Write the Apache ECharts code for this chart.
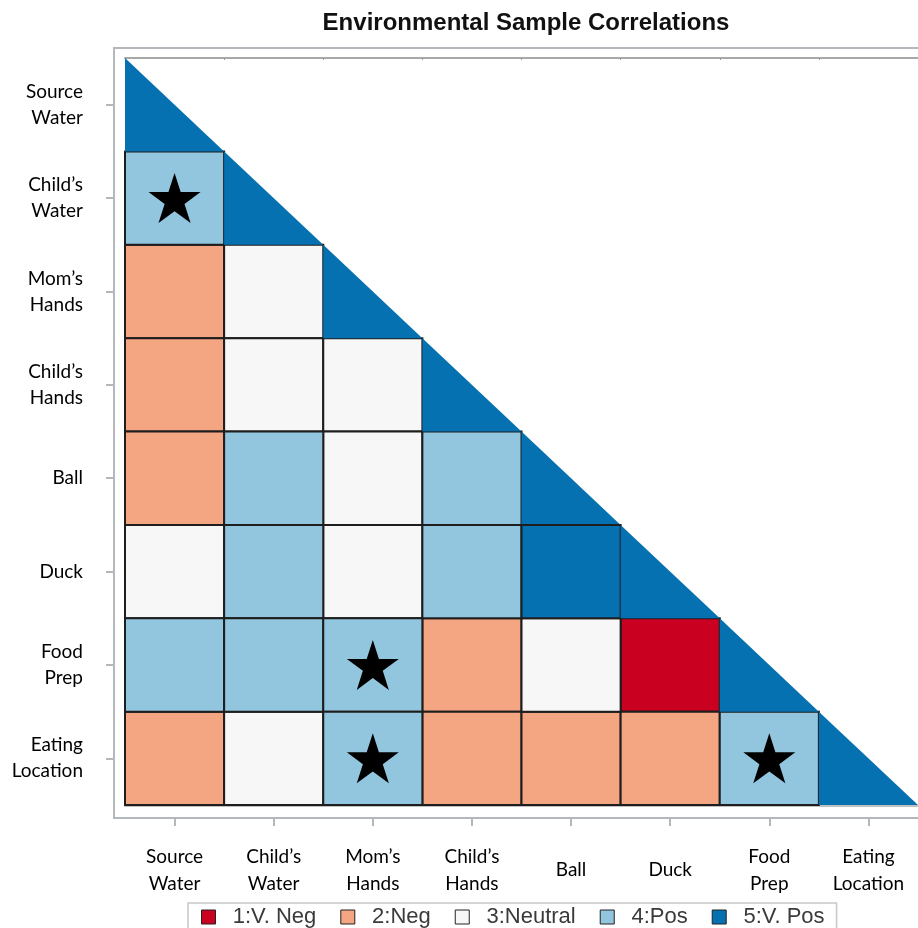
<!DOCTYPE html>
<html>
<head>
<meta charset="utf-8">
<script src="https://cdn.jsdelivr.net/npm/echarts@6/dist/echarts.min.js"></script>
<style>
html,body{margin:0;padding:0;background:#fff;}
#chart{width:918px;height:928px;}
</style>
</head>
<body>
<div id="chart"></div>
<script>
// ---- data ----
const categories = ['Source\nWater', 'Child\u2019s\nWater', 'Mom\u2019s\nHands', 'Child\u2019s\nHands', 'Ball', 'Duck', 'Food\nPrep', 'Eating\nLocation'];
// lower-triangle correlation levels, one array per row (columns 0..row)
const rowSourceWater   = [5];
const rowChildsWater   = [4, 5];
const rowMomsHands     = [2, 3, 5];
const rowChildsHands   = [2, 3, 3, 5];
const rowBall          = [2, 4, 3, 4, 5];
const rowDuck          = [3, 4, 3, 4, 5, 5];
const rowFoodPrep      = [4, 4, 4, 2, 3, 1, 5];
const rowEatingLoc     = [2, 3, 4, 2, 2, 2, 4, 5];
const levelNames = ['1:V. Neg', '2:Neg', '3:Neutral', '4:Pos', '5:V. Pos'];
// significant cells: [column, row]
const starCells = [[0, 1], [2, 6], [2, 7], [6, 7]];

// ---- styles ----
const levelColors = ['#ca0020', '#f4a582', '#f7f7f7', '#92c5de', '#0571b0'];
const rows = [rowSourceWater, rowChildsWater, rowMomsHands, rowChildsHands, rowBall, rowDuck, rowFoodPrep, rowEatingLoc];

function renderCell(params, api) {
  const x = api.value(0), y = api.value(1);
  const c = api.coord([x, y]);
  const s = api.size([1, 1]);
  const x0 = c[0] - s[0] / 2, y0 = c[1] - s[1] / 2;
  const fill = api.visual('color');
  if (x === y) {
    return {
      type: 'polygon',
      shape: { points: [[x0, y0], [x0, y0 + s[1]], [x0 + s[0], y0 + s[1]]] },
      style: { fill: fill }
    };
  }
  return {
    type: 'rect',
    shape: { x: x0, y: y0, width: s[0], height: s[1] },
    style: { fill: fill, stroke: '#1e1e1e', lineWidth: 2 }
  };
}

const cellSeries = levelNames.map(function (name, li) {
  const data = [];
  rows.forEach(function (r, ri) {
    r.forEach(function (v, ci) { if (v === li + 1) data.push([ci, ri, v]); });
  });
  return {
    type: 'custom', name: name, renderItem: renderCell,
    xAxisIndex: 0, yAxisIndex: 0,
    itemStyle: { color: levelColors[li], borderColor: '#1e1e1e', borderWidth: 1 },
    encode: { x: 0, y: 1 }, data: data, z: 3
  };
});

const starPath = 'path://M0,-50 L11.2,-15.5 L47.6,-15.5 L18.2,5.9 L29.4,40.5 L0,19.1 L-29.4,40.5 L-18.2,5.9 L-47.6,-15.5 L-11.2,-15.5 Z';

const chart = echarts.init(document.getElementById('chart'), null, { renderer: 'canvas' });
const labelFont = 'Lato';
const frameColor = '#b4b8bc';
chart.setOption({
  animation: false,
  backgroundColor: '#fff',
  title: {
    text: 'Environmental Sample Correlations',
    left: 521, top: 6, textAlign: 'center',
    textStyle: { fontFamily: 'Liberation Sans', fontSize: 24, fontWeight: 'bold', color: '#111' }
  },
  grid: { left: 125, top: 58, width: 793, height: 747, containLabel: false },
  legend: {
    data: levelNames, left: 188, top: 903,
    orient: 'horizontal',
    icon: 'rect', itemWidth: 14, itemHeight: 14, itemGap: 24,
    padding: [3, 12, 12, 13],
    borderColor: '#c8c8c8', borderWidth: 1.5,
    formatter: function (n) { return '  ' + n; },
    textStyle: { fontFamily: 'Liberation Sans', fontSize: 22, color: '#3a3a3a' },
    itemStyle: { borderColor: '#222', borderWidth: 1 }
  },
  xAxis: [
    {
      type: 'category', data: categories, position: 'bottom', offset: 13,
      axisLine: { show: false },
      axisTick: { show: true, alignWithLabel: true, length: 8, lineStyle: { color: frameColor, width: 2 } },
      axisLabel: { fontFamily: labelFont, fontSize: 19, color: '#000', lineHeight: 27, margin: 52, verticalAlign: 'middle', align: 'center' },
      splitLine: { show: false }
    },
    {
      type: 'category', data: categories, position: 'top', offset: 0,
      axisLine: { show: true, lineStyle: { color: '#a8a8a8', width: 2 } },
      axisTick: { show: true, alignWithLabel: false, length: 2, inside: true, lineStyle: { color: '#999' } },
      axisLabel: { show: false }
    },
    {
      type: 'category', data: categories, position: 'bottom', offset: 1,
      axisLine: { show: true, lineStyle: { color: '#c0c0c0', width: 2 } },
      axisTick: { show: false }, axisLabel: { show: false }
    }
  ],
  yAxis: [
    {
      type: 'category', data: categories, inverse: true, position: 'left', offset: 11,
      axisLine: { show: false },
      axisTick: { show: true, alignWithLabel: true, length: 8, lineStyle: { color: frameColor, width: 2 } },
      axisLabel: { fontFamily: labelFont, fontSize: 19, color: '#000', lineHeight: 26, margin: 31, align: 'right' },
      splitLine: { show: false }
    }
  ],
  graphic: [
    { type: 'polyline', shape: { points: [[930, 48], [114, 48], [114, 818], [930, 818]] },
      style: { stroke: frameColor, lineWidth: 2, fill: null }, silent: true, z: 1 }
  ],
  series: cellSeries.concat([{
    type: 'scatter', name: 'significant', xAxisIndex: 0, yAxisIndex: 0,
    symbol: starPath, symbolSize: [52, 50],
    itemStyle: { color: '#000', opacity: 1 }, data: starCells, z: 5
  }])
});
</script>
</body>
</html>
